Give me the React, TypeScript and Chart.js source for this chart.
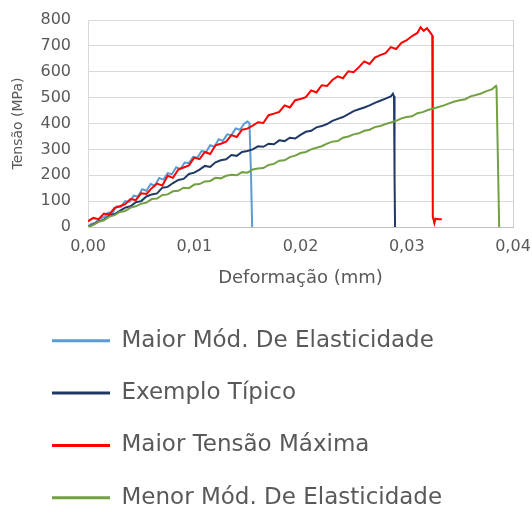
import React, { useEffect, useRef } from "react";
import { Chart, registerables } from "chart.js";

Chart.register(...registerables);

const seriesNames = [
  "Maior Mód. De Elasticidade",
  "Exemplo Típico",
  "Maior Tensão Máxima",
  "Menor Mód. De Elasticidade",
];
const seriesColors = ["#5B9BD5", "#1F3864", "#FF0000", "#72A043"];

const xTicks = [0, 0.01, 0.02, 0.03, 0.04];
const yTicks = [0, 100, 200, 300, 400, 500, 600, 700, 800];

// [deformação (mm), tensão (MPa)]
const blueData: [number, number][] = [
  [0, 0], [0.0003, 12], [0.0007, 16], [0.0011, 33], [0.0015, 38], [0.0019, 56], [0.0023, 54],
  [0.0027, 79], [0.0031, 78], [0.0035, 100], [0.0039, 97], [0.0043, 121], [0.0047, 118],
  [0.0051, 146], [0.0055, 140], [0.0059, 166], [0.0063, 160], [0.0067, 189], [0.0071, 183],
  [0.0075, 208], [0.0079, 204], [0.0083, 231], [0.0087, 224], [0.0091, 249], [0.0095, 247],
  [0.0099, 271], [0.0103, 268], [0.0107, 294], [0.0111, 289], [0.0115, 316], [0.0119, 310],
  [0.0123, 339], [0.0127, 333], [0.0131, 358], [0.0135, 355], [0.0139, 381], [0.0143, 376],
  [0.0147, 399], [0.015, 408], [0.0152, 401], [0.01535, 190], [0.01545, 0],
];

const navyData: [number, number][] = [
  [0, 0], [0.0005, 10], [0.001, 22], [0.0015, 28], [0.002, 45], [0.0025, 50], [0.003, 62],
  [0.0035, 75], [0.004, 80], [0.0045, 96], [0.005, 100], [0.0055, 118], [0.006, 126],
  [0.0065, 130], [0.007, 152], [0.0075, 155], [0.008, 170], [0.0085, 182], [0.009, 186],
  [0.0095, 205], [0.01, 210], [0.0105, 222], [0.011, 236], [0.0115, 232], [0.012, 250],
  [0.0125, 258], [0.013, 262], [0.0135, 278], [0.014, 275], [0.0145, 290], [0.015, 294],
  [0.0155, 300], [0.016, 312], [0.0165, 310], [0.017, 322], [0.0175, 320], [0.018, 335],
  [0.0185, 332], [0.019, 345], [0.0195, 342], [0.02, 356], [0.0205, 368], [0.021, 372],
  [0.0215, 385], [0.022, 390], [0.0225, 398], [0.023, 410], [0.0235, 418], [0.024, 425],
  [0.0245, 436], [0.025, 448], [0.0255, 455], [0.026, 462], [0.0265, 470], [0.027, 480],
  [0.0275, 488], [0.028, 496], [0.0285, 505], [0.0287, 515], [0.0288, 505], [0.02885, 200],
  [0.0289, 0],
];

const redData: [number, number][] = [
  [0, 22], [0.0005, 35], [0.001, 30], [0.0015, 52], [0.002, 48], [0.0025, 74], [0.003, 80],
  [0.0035, 88], [0.004, 108], [0.0045, 104], [0.005, 130], [0.0055, 128], [0.006, 150],
  [0.0065, 168], [0.007, 160], [0.0075, 198], [0.008, 190], [0.0085, 222], [0.009, 230],
  [0.0095, 238], [0.01, 268], [0.0105, 262], [0.011, 290], [0.0115, 282], [0.012, 316],
  [0.0125, 322], [0.013, 330], [0.0135, 355], [0.014, 348], [0.0145, 376], [0.015, 380],
  [0.0155, 392], [0.016, 405], [0.0165, 402], [0.017, 432], [0.0175, 438], [0.018, 445],
  [0.0185, 470], [0.019, 462], [0.0195, 490], [0.02, 495], [0.0205, 502], [0.021, 528],
  [0.0215, 520], [0.022, 548], [0.0225, 545], [0.023, 568], [0.0235, 582], [0.024, 575],
  [0.0245, 602], [0.025, 598], [0.0255, 618], [0.026, 640], [0.0265, 630], [0.027, 655],
  [0.0275, 664], [0.028, 672], [0.0285, 695], [0.029, 688], [0.0295, 712], [0.03, 722],
  [0.0305, 738], [0.031, 750], [0.0313, 772], [0.0316, 758], [0.0319, 768], [0.0322, 752],
  [0.0324, 740], [0.03245, 40], [0.0326, 15], [0.0327, 32], [0.033, 30], [0.0333, 30],
];

const greenData: [number, number][] = [
  [0, 0], [0.0005, 8], [0.001, 20], [0.0015, 26], [0.002, 40], [0.0025, 46], [0.003, 58],
  [0.0035, 62], [0.004, 75], [0.0045, 80], [0.005, 90], [0.0055, 94], [0.006, 108],
  [0.0065, 110], [0.007, 124], [0.0075, 126], [0.008, 138], [0.0085, 140], [0.009, 152],
  [0.0095, 150], [0.01, 164], [0.0105, 166], [0.011, 176], [0.0115, 178], [0.012, 190],
  [0.0125, 188], [0.013, 198], [0.0135, 202], [0.014, 200], [0.0145, 212], [0.015, 210],
  [0.0155, 222], [0.016, 226], [0.0165, 228], [0.017, 240], [0.0175, 244], [0.018, 256],
  [0.0185, 258], [0.019, 270], [0.0195, 276], [0.02, 286], [0.0205, 290], [0.021, 300],
  [0.0215, 306], [0.022, 312], [0.0225, 322], [0.023, 330], [0.0235, 332], [0.024, 345],
  [0.0245, 350], [0.025, 358], [0.0255, 362], [0.026, 372], [0.0265, 376], [0.027, 386],
  [0.0275, 390], [0.028, 398], [0.0285, 404], [0.029, 410], [0.0295, 420], [0.03, 425],
  [0.0305, 428], [0.031, 440], [0.0315, 444], [0.032, 452], [0.0325, 458], [0.033, 464],
  [0.0335, 470], [0.034, 478], [0.0345, 485], [0.035, 490], [0.0355, 494], [0.036, 505],
  [0.0365, 510], [0.037, 516], [0.0375, 525], [0.038, 532], [0.0384, 545], [0.03845, 540],
  [0.0387, 0],
];

const allData = [blueData, navyData, redData, greenData];

const W = 532;
const H = 509;
const TEXT = "#595959";
const FONT = "'DejaVu Sans', sans-serif";

const LEGEND_PAD = 29.3;
const LAYOUT_LEFT = 52 - LEGEND_PAD;

export default function App() {
  const ref = useRef<HTMLCanvasElement | null>(null);

  useEffect(() => {
    document.body.style.margin = "0";
    document.documentElement.style.overflow = "hidden";
    if (!ref.current) return;
    const chart = new Chart(ref.current, {
      type: "line",
      data: {
        datasets: allData.map((pts, i) => ({
          label: seriesNames[i],
          data: pts.map(([x, y]) => ({ x, y })),
          borderColor: seriesColors[i],
          backgroundColor: seriesColors[i],
          borderWidth: 2,
          pointRadius: 0,
          tension: 0,
          fill: false,
          order: allData.length - 1 - i,
        })),
      },
      options: {
        animation: false,
        responsive: false,
        devicePixelRatio: 1,
        events: [],
        layout: { padding: { top: 20, right: 19, left: LAYOUT_LEFT, bottom: 0 } },
        font: { family: FONT },
        scales: {
          x: {
            type: "linear",
            min: xTicks[0],
            max: xTicks[xTicks.length - 1],
            afterBuildTicks: (s: any) => {
              s.ticks = xTicks.map((v) => ({ value: v }));
            },
            afterFit: (s: any) => {
              s.height = 73;
              s.paddingLeft = 0;
              s.paddingRight = 0;
            },
            ticks: {
              color: TEXT,
              font: { family: FONT, size: 16 },
              padding: 10,
              maxRotation: 0,
              callback: (v: any) => Number(v).toFixed(2).replace(".", ","),
            },
            grid: {
              drawTicks: false,
              color: (ctx: any) =>
                ctx.tick && Math.abs(ctx.tick.value - 0.04) < 1e-9 ? "#d0d0d0" : "rgba(0,0,0,0)",
            },
            border: { display: true, color: "#bfbfbf", width: 1 },
            title: {
              display: true,
              text: "Deformação (mm)",
              color: TEXT,
              font: { family: FONT, size: 18 },
              padding: { top: 0, bottom: 11 },
            },
          },
          y: {
            type: "linear",
            min: yTicks[0],
            max: yTicks[yTicks.length - 1],
            afterBuildTicks: (s: any) => {
              s.ticks = yTicks.map((v) => ({ value: v }));
            },
            afterFit: (s: any) => {
              s.width = 88 - LAYOUT_LEFT;
              s.paddingTop = 0;
              s.paddingBottom = 0;
            },
            ticks: {
              color: TEXT,
              font: { family: FONT, size: 16 },
              padding: 17,
            },
            grid: { drawTicks: false, color: "#d9d9d9" },
            border: { display: true, color: "#d9d9d9" },
            title: {
              display: true,
              text: "Tensão (MPa)",
              color: TEXT,
              font: { family: FONT, size: 14 },
              padding: { top: 10.1 - LAYOUT_LEFT, bottom: 0 },
            },
          },
        },
        plugins: {
          tooltip: { enabled: false },
          legend: {
            position: "bottom",
            align: "start",
            maxHeight: 209,
            labels: {
              color: TEXT,
              font: { family: FONT, size: 23 },
              boxWidth: 58,
              boxHeight: 3,
              padding: LEGEND_PAD,
              sort: (a: any, b: any) => a.datasetIndex - b.datasetIndex,
              generateLabels: (c: any) =>
                Chart.defaults.plugins.legend.labels.generateLabels(c).map((it: any) => ({
                  ...it,
                  fillStyle: seriesColors[it.datasetIndex],
                  lineWidth: 0,
                })),
            },
          },
        },
      } as any,
    });
    return () => chart.destroy();
  }, []);

  return (
    <div style={{ width: W, height: H }}>
      <canvas ref={ref} width={W} height={H} style={{ display: "block" }} />
    </div>
  );
}
